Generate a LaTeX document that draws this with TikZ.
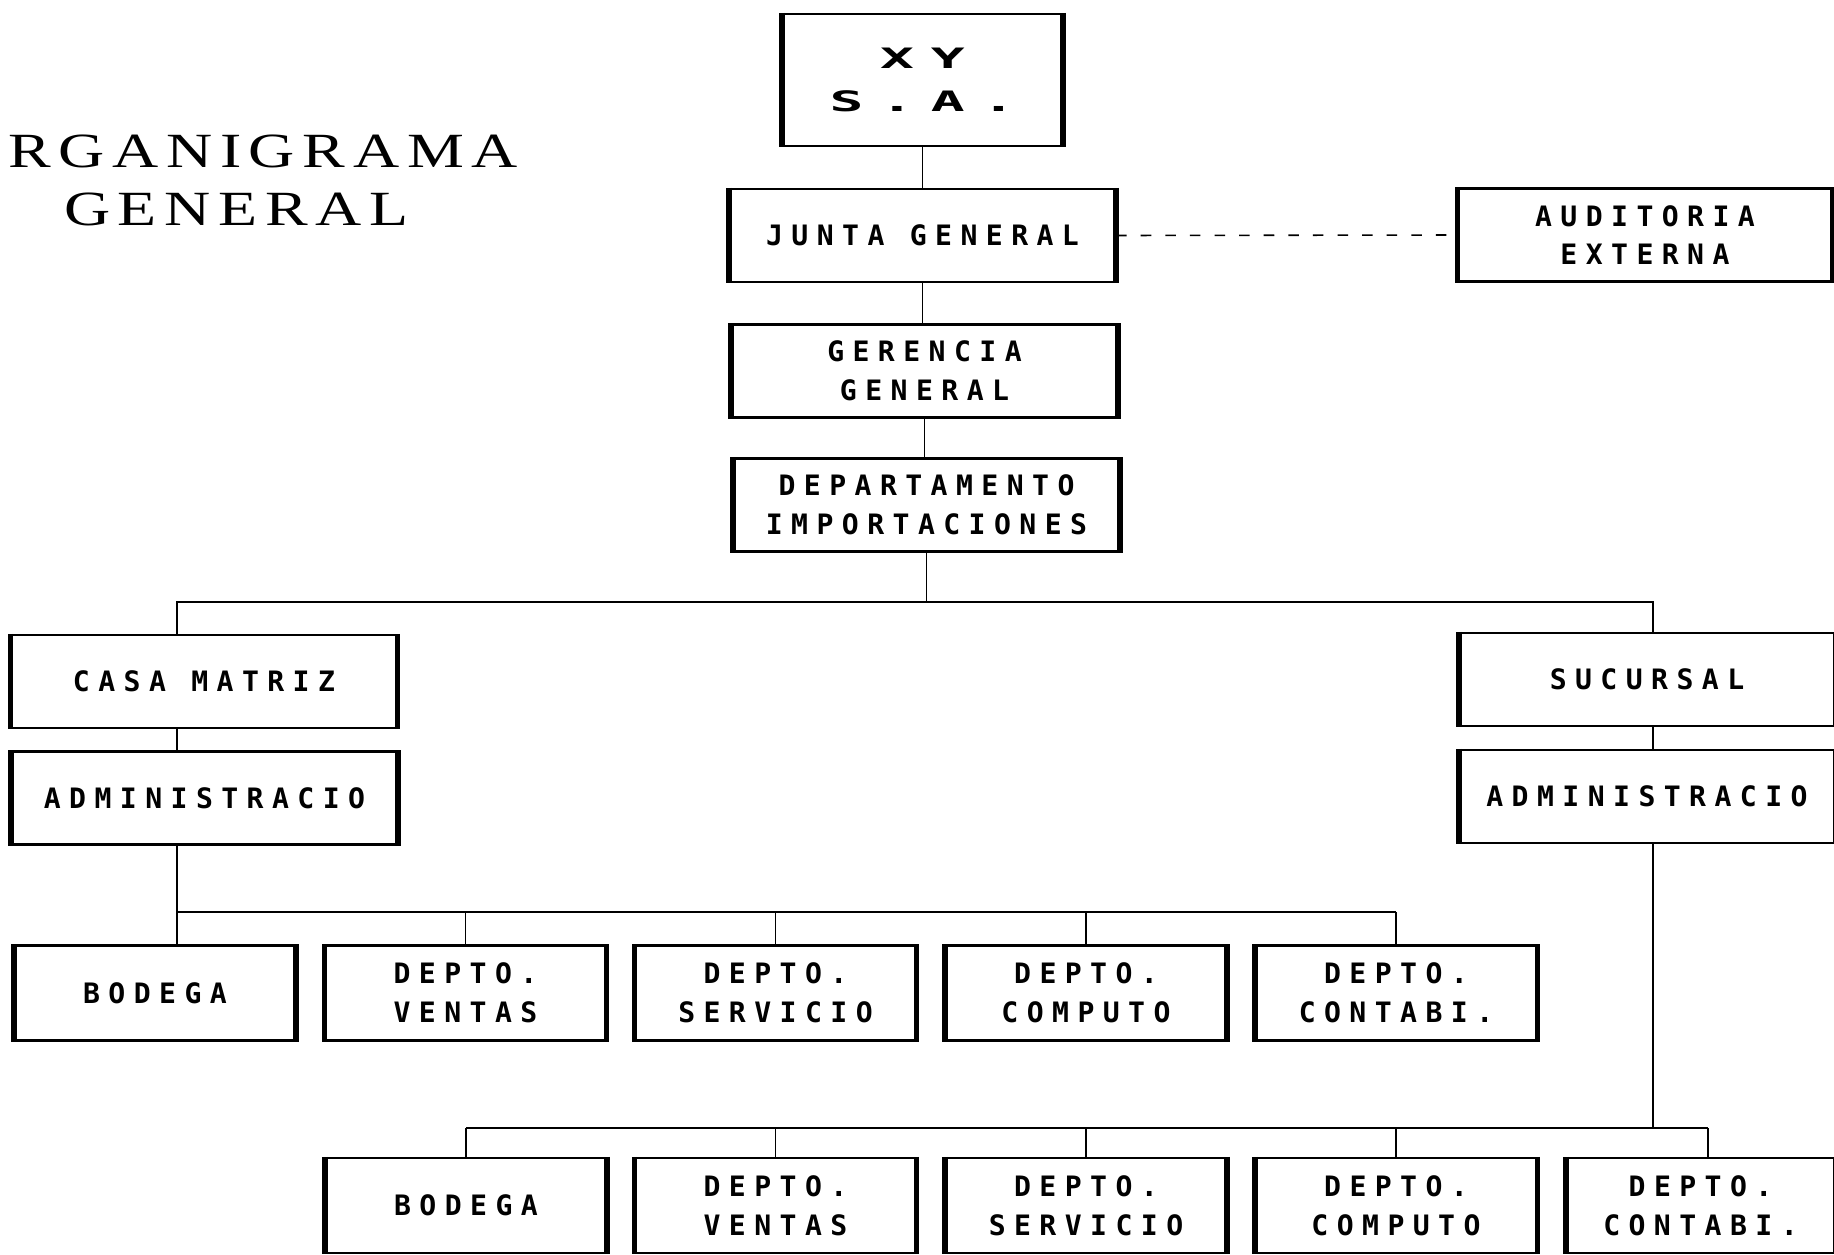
\documentclass[tikz,border=0pt]{standalone}
\usepackage{fontspec}
\usepackage{tikz}
\newfontfamily\boxfont[LetterSpace=30]{DejaVu Sans Mono}
\newfontfamily\titlefont[LetterSpace=12]{Liberation Serif}

\begin{document}
\begin{tikzpicture}[x=0.02cm, y=-0.02cm,
  box/.style={draw, line width=1.3pt, align=center, inner sep=0pt,
    font=\boxfont\bfseries\fontsize{16}{22}\selectfont,
    append after command={\pgfextra{
      \draw[line width=3pt] (\tikzlastnode.north west) -- (\tikzlastnode.south west)
        (\tikzlastnode.north east) -- (\tikzlastnode.south east);}}},
  wide/.style={box, minimum width=7.7cm, minimum height=1.86cm},
  small/.style={box, minimum width=5.6cm, minimum height=1.9cm},
  heading/.style={anchor=base west, font=\titlefont\fontsize{28}{34}\selectfont},
  link/.style={line width=0.9pt}]
  \useasboundingbox (0,0) rectangle (1834,1254);

  % Title
  \node[heading] (title1) at (2,167) {\scalebox{1.3}[1]{RGANIGRAMA}};
  \node[heading] (title2) at (58,225) {\scalebox{1.3}[1]{GENERAL}};

  % Top levels
  \node[box, minimum width=5.58cm, minimum height=2.64cm,
    font=\boxfont\bfseries\fontsize{16}{24}\selectfont]
    (xy) at (922.5,80) {\scalebox{2}[1]{XY}\\\scalebox{2}[1]{S.A.}};
  \node[wide] (junta) at (922.5,235.5) {JUNTA GENERAL};
  \node[wide, minimum width=7.46cm] (aud) at (1645,235) {AUDITORIA\\EXTERNA};
  \node[wide] (ger) at (924.5,371) {GERENCIA\\GENERAL};
  \node[wide] (imp) at (926.5,505) {DEPARTAMENTO\\IMPORTACIONES};

  % Casa matriz and sucursal
  \node[wide] (casa) at (204,681.5) {CASA MATRIZ};
  \node[wide] (adm1) at (204.5,798) {ADMINISTRACIO};
  \node[wide, minimum width=7.48cm] (suc) at (1647,679.5) {SUCURSAL};
  \node[wide, minimum width=7.48cm] (adm2) at (1647,796.5) {ADMINISTRACIO};

  % Departments, casa matriz
  \node[small] (bod1) at (155,993) {BODEGA};
  \node[small] (ven1) at (465.5,993) {DEPTO.\\VENTAS};
  \node[small] (ser1) at (775.5,993) {DEPTO.\\SERVICIO};
  \node[small] (com1) at (1086,993) {DEPTO.\\COMPUTO};
  \node[small] (con1) at (1396,993) {DEPTO.\\CONTABI.};

  % Departments, sucursal
  \node[small] (bod2) at (466,1205.5) {BODEGA};
  \node[small] (ven2) at (775.5,1205.5) {DEPTO.\\VENTAS};
  \node[small] (ser2) at (1086,1205.5) {DEPTO.\\SERVICIO};
  \node[small] (com2) at (1396,1205.5) {DEPTO.\\COMPUTO};
  \node[small, minimum width=5.34cm] (con2) at (1700.5,1205.5) {DEPTO.\\CONTABI.};

  % Connectors
  \coordinate (spineL) at (177,602);
  \coordinate (spineR) at (1653,602);
  \coordinate (rowA) at (0,912);
  \coordinate (rowB) at (0,1128);

  \draw[link] (xy.south) -- (junta.north);
  \draw[link] (junta.south) -- (junta.south |- ger.north);
  \draw[link] (ger.south) -- (ger.south |- imp.north);
  \draw[link, dash pattern=on 6pt off 8pt] (junta.east) -- (aud.west);
  \draw[link] (imp.south) -- (imp.south |- spineL);
  \draw[link] (spineL |- casa.north) -- (spineL) -- (spineR) -- (spineR |- suc.north);
  \draw[link] (spineL |- casa.south) -- (spineL |- adm1.north);
  \draw[link] (spineR |- suc.south) -- (spineR |- adm2.north);

  \draw[link] (spineL |- adm1.south) -- (spineL |- bod1.north);
  \draw[link] (spineL |- rowA) -- (con1.north |- rowA);
  \foreach \dep in {ven1,ser1,com1,con1}
    \draw[link] (\dep.north |- rowA) -- (\dep.north);

  \draw[link] (spineR |- adm2.south) -- (spineR |- rowB);
  \draw[link] (bod2.north |- rowB) -- ([xshift=0.15cm]con2.north |- rowB);
  \foreach \dep in {bod2,ven2,ser2,com2}
    \draw[link] (\dep.north |- rowB) -- (\dep.north);
  \draw[link] ([xshift=0.15cm]con2.north |- rowB) -- ([xshift=0.15cm]con2.north);
\end{tikzpicture}
\end{document}
